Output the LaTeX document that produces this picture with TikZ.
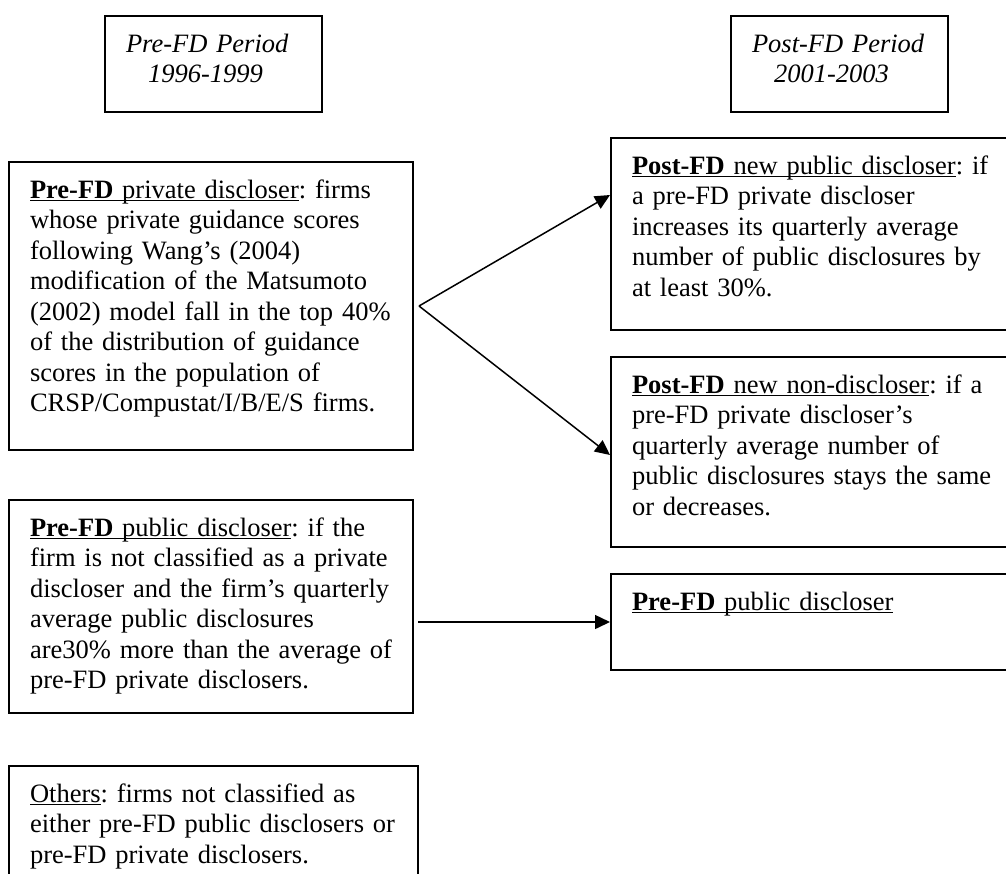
\documentclass[tikz,border=0pt]{standalone}
\usepackage{fontspec}
\setmainfont{Liberation Serif}
\usetikzlibrary{arrows.meta,positioning}
\frenchspacing
\newcommand{\undl}[1]{\setbox0=\hbox{#1}\rlap{\rule[-1.7pt]{\wd0}{0.8pt}}\box0}
\tikzset{
block/.style = {draw, line width=1pt, rectangle, text width=181pt, inner xsep=10.5pt, inner ysep=0pt, text height=18pt, align=left, font=\fontsize{13.25}{15.25}\selectfont},
period/.style = {block, text width=87.5pt, text depth=30pt, font=\fontsize{13.25}{15.25}\selectfont\itshape},
tmp/.style = {coordinate}
}

\begin{document}
\begin{tikzpicture}[>={Triangle[length=7.5pt,width=7pt]}, line width=0.75pt]
    \useasboundingbox (0,0) rectangle (503pt,-436.5pt);
    \clip (0,0) rectangle (503pt,-436.5pt);

    \node [period, anchor=north west] (pre) at (52pt,-7.5pt) {Pre-FD Period\\\hspace*{11pt}1996-1999};
    \node [period, right=203.5pt of pre] (post) {Post-FD Period\\\hspace*{11pt}2001-2003};

    \node [block, text depth=126pt, below=24pt of pre, xshift=-1.25pt] (priv) {\undl{\textbf{Pre-FD} private discloser}: firms\\
        whose private guidance scores\\
        following Wang’s (2004)\\
        modification of the Matsumoto\\
        (2002) model fall in the top 40\%\\
        of the distribution of guidance\\
        scores in the population of\\
        CRSP/Compustat/I/B/E/S firms.};
    \node [block, text depth=88.5pt, below=24pt of priv] (pub) {\undl{\textbf{Pre-FD} public discloser}: if the\\
        firm is not classified as a private\\
        discloser and the firm’s quarterly\\
        average public disclosures\\
        are30\% more than the average of\\
        pre-FD private disclosers.};
    \node [block, text width=183.5pt, text depth=70pt, below=25.5pt of pub, xshift=1.25pt] (oth) {\undl{Others}: firms not classified as\\
        either pre-FD public disclosers or\\
        pre-FD private disclosers.};

    \node [block, text depth=78pt, below=12pt of post, xshift=-13.25pt] (newpub) {\undl{\textbf{Post-FD} new public discloser}: if\\
        a pre-FD private discloser\\
        increases its quarterly average\\
        number of public disclosures by\\
        at least 30\%.};
    \node [block, text depth=77pt, below=12.5pt of newpub] (newnon) {\undl{\textbf{Post-FD} new non-discloser}: if a\\
        pre-FD private discloser’s\\
        quarterly average number of\\
        public disclosures stays the same\\
        or decreases.};
    \node [block, text depth=30pt, below=12.5pt of newnon] (pubpost) {\undl{\textbf{Pre-FD} public discloser}};

    \coordinate [right=2.5pt of priv] (fork);
    \draw [->] (fork) -- ([yshift=19.5pt]newpub.west);
    \draw [->] (fork) -- ([yshift=-1.5pt]newnon.west);
    \draw [->] ([xshift=2pt]pub.east |- pubpost.west) -- (pubpost.west);
\end{tikzpicture}
\end{document}
